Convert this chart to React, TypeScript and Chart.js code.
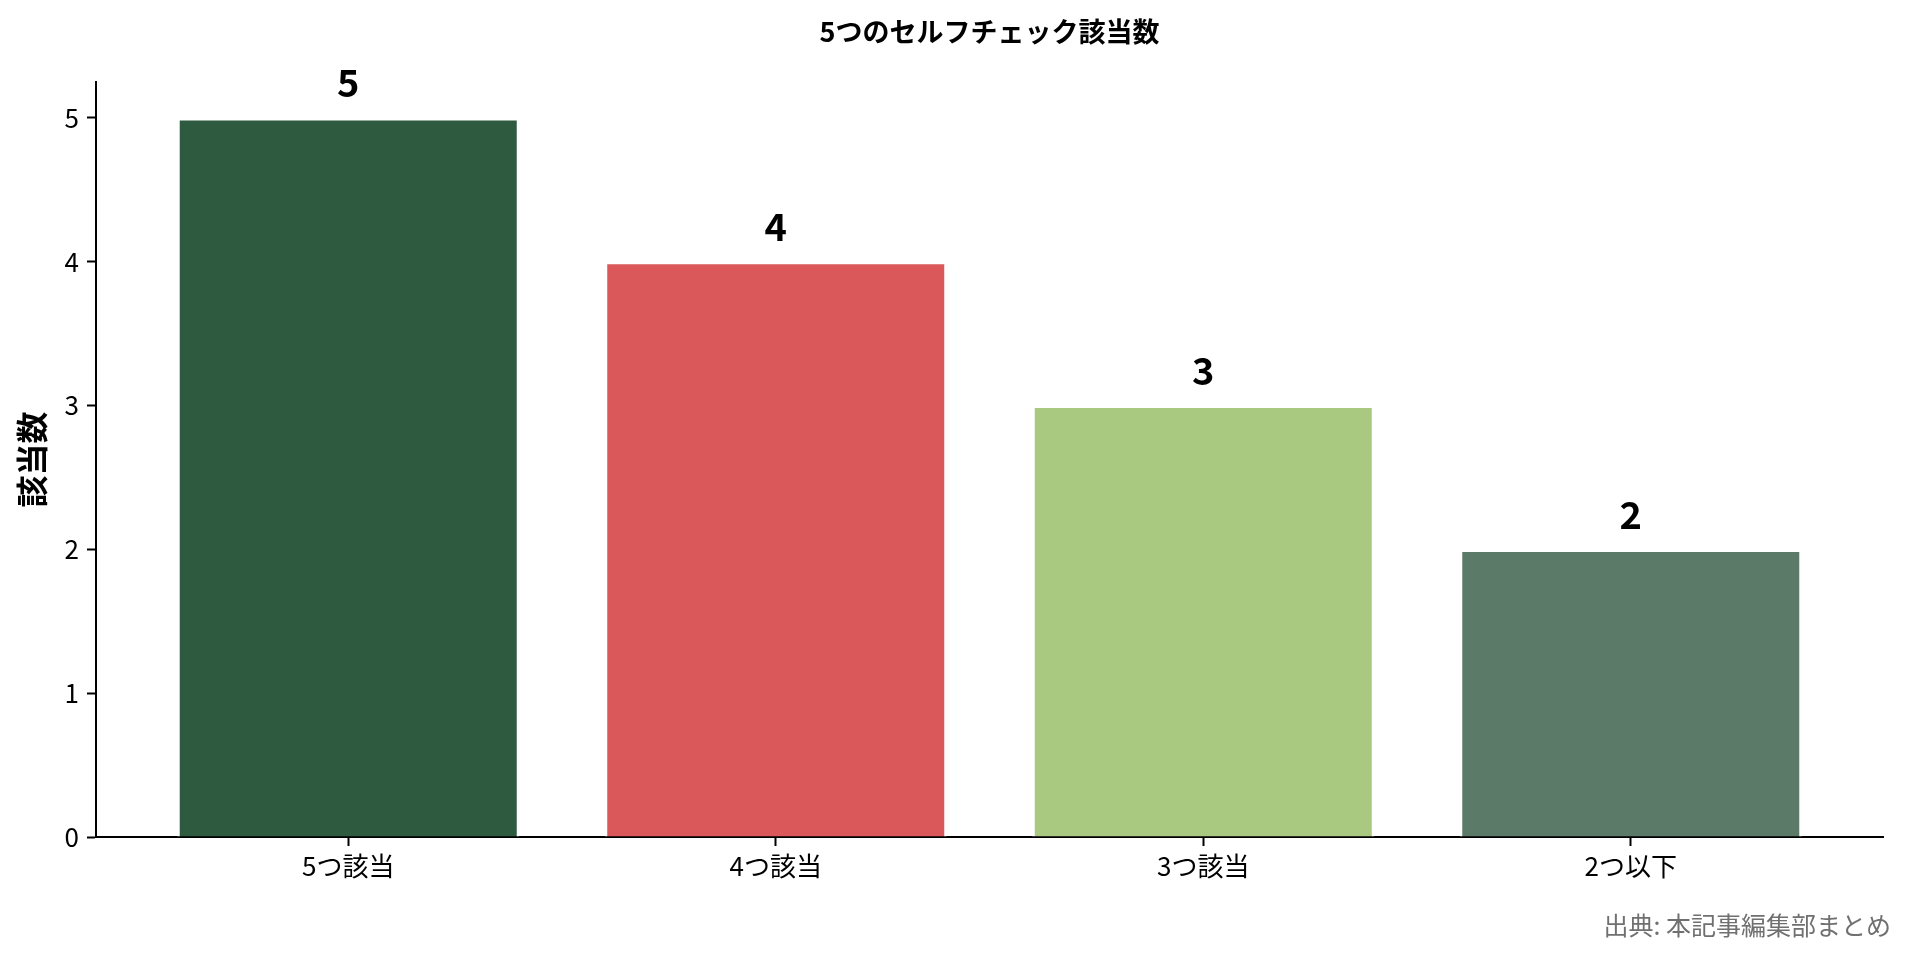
import { useEffect, useRef } from "react";
import { Chart, registerables } from "chart.js";
import type { ChartConfiguration, Plugin } from "chart.js";

Chart.register(...registerables);

// ---------------------------------------------------------------------------
// data
// ---------------------------------------------------------------------------
const CATEGORIES = ["5つ該当", "4つ該当", "3つ該当", "2つ以下"];
const COUNTS = [5, 4, 3, 2];
const BAR_COLORS = ["#2E5A3F", "#DA5859", "#AAC980", "#5C7A68"];
const Y_TICKS = [0, 1, 2, 3, 4, 5];

const TITLE = "5つのセルフチェック該当数";
const Y_LABEL = "該当数";
const SOURCE = "出典: 本記事編集部まとめ";

const FONT = '"Noto Sans CJK JP", "Noto Sans", sans-serif';

// title, source note and value labels on top of the bars
const annotations: Plugin<"bar"> = {
  id: "annotations",
  afterDatasetsDraw(chart) {
    const { ctx, chartArea } = chart;
    const meta = chart.getDatasetMeta(0);
    ctx.save();
    ctx.fillStyle = "#000";
    ctx.textAlign = "center";
    ctx.textBaseline = "middle";

    ctx.font = `bold 38px ${FONT}`;
    meta.data.forEach((bar, i) => {
      ctx.fillText(String(COUNTS[i]), bar.x, bar.y - 35);
    });

    ctx.font = `bold 27px ${FONT}`;
    ctx.fillText(TITLE, (chartArea.left + chartArea.right) / 2, 32);

    ctx.font = `25px ${FONT}`;
    ctx.fillStyle = "#707070";
    ctx.textAlign = "right";
    ctx.fillText(SOURCE, chart.width - 19, 925);
    ctx.restore();
  },
};

const createConfig = (): ChartConfiguration<"bar"> => ({
  type: "bar",
  data: {
    datasets: [
      {
        data: COUNTS.map((v, i) => ({ x: i, y: v })),
        backgroundColor: BAR_COLORS,
        borderColor: "#ffffff",
        borderWidth: 2.5,
        barPercentage: 0.8,
        categoryPercentage: 1,
      },
    ],
  },
  options: {
    animation: false,
    responsive: true,
    maintainAspectRatio: false,
    devicePixelRatio: 1,
    layout: { padding: { top: 82, right: 27, bottom: 62, left: 0 } },
    plugins: {
      legend: { display: false },
      tooltip: { enabled: false },
    },
    scales: {
      x: {
        type: "linear",
        min: -0.59,
        max: 3.59,
        offset: false,
        afterBuildTicks: (scale) => {
          scale.ticks = CATEGORIES.map((_, i) => ({ value: i }));
        },
        afterFit: (scale) => {
          scale.height = 60;
        },
        ticks: {
          callback: (v) => CATEGORIES[Number(v)] ?? "",
          color: "#000",
          font: { family: FONT, size: 26 },
          padding: 5,
          maxRotation: 0,
        },
        grid: {
          offset: false,
          drawOnChartArea: false,
          drawTicks: true,
          tickLength: 9,
          tickWidth: 2,
          tickColor: "#000",
        },
        border: { display: true, color: "#000", width: 2 },
      },
      y: {
        min: 0,
        max: 5.25,
        afterBuildTicks: (scale) => {
          scale.ticks = Y_TICKS.map((v) => ({ value: v }));
        },
        afterFit: (scale) => {
          scale.width = 96;
        },
        ticks: {
          color: "#000",
          font: { family: FONT, size: 26 },
          padding: 8,
        },
        grid: {
          drawOnChartArea: false,
          drawTicks: true,
          tickLength: 9,
          tickWidth: 2,
          tickColor: "#000",
        },
        border: { display: true, color: "#000", width: 2 },
        title: {
          display: true,
          text: Y_LABEL,
          color: "#000",
          font: { family: FONT, size: 32, weight: "bold" },
          padding: { top: 13, bottom: 0 },
        },
      },
    },
  },
  plugins: [annotations],
});

export default function App() {
  const canvasRef = useRef<HTMLCanvasElement>(null);
  const chartRef = useRef<Chart<"bar"> | null>(null);

  useEffect(() => {
    document.body.style.margin = "0";
    if (!canvasRef.current) return;
    chartRef.current = new Chart(canvasRef.current, createConfig());
    return () => {
      chartRef.current?.destroy();
      chartRef.current = null;
    };
  }, []);

  return (
    <div style={{ width: 1910, height: 959, position: "relative", background: "#fff" }}>
      <canvas ref={canvasRef} />
    </div>
  );
}
